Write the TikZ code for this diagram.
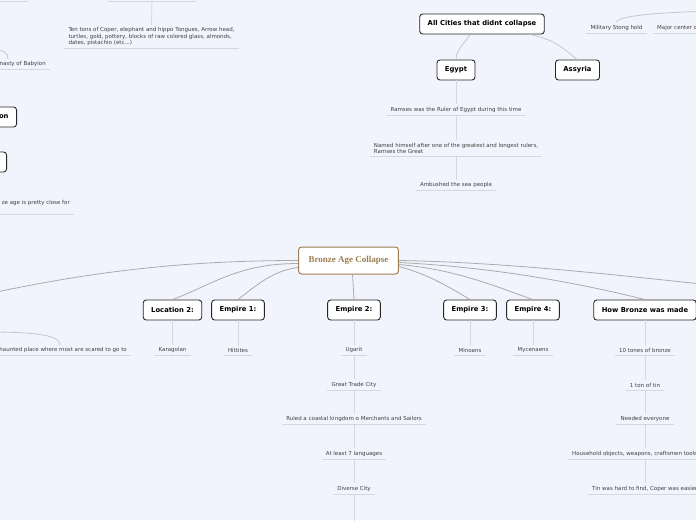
\documentclass[tikz,border=0pt]{standalone}
\usepackage{fontspec}
\newfontfamily\mapfont{DejaVu Sans}
\newfontfamily\rootfont{Liberation Serif}
\usetikzlibrary{calc}

\definecolor{mapbg}{HTML}{F1F4FC}
\definecolor{roottan}{HTML}{9C7E52}
\definecolor{trunkgray}{HTML}{ABABAB}
\definecolor{branchgray}{HTML}{C4C7CF}
\definecolor{linegray}{HTML}{D3D7DF}
\definecolor{leaftext}{HTML}{404040}

\begin{document}
\begin{tikzpicture}[x=1pt, y=-1pt,
    root/.style={draw=roottan, line width=1pt, rounded corners=3pt, fill=white, text=roottan,
        font=\rootfont\bfseries\fontsize{9}{10}\selectfont, minimum height=27pt, inner xsep=10pt},
    topic/.style={draw=black!85, line width=0.9pt, rounded corners=3pt, fill=white,
        font=\mapfont\bfseries\fontsize{6.8}{8}\selectfont, minimum height=20pt, inner xsep=8pt},
    uline/.style={draw=linegray, line width=0.8pt},
    leaf/.style={text=leaftext, font=\mapfont\fontsize{5.5}{6.4}\selectfont, inner xsep=4pt, inner ysep=2.5pt, align=left,
        append after command={(\tikzlastnode.south west) edge[uline] (\tikzlastnode.south east)}},
    trunk/.style={draw=trunkgray, line width=0.8pt},
    branch/.style={draw=branchgray, line width=0.8pt}]
    \useasboundingbox (0,0) rectangle (696,520);
    \clip (0,0) rectangle (696,520);
    \fill[mapbg] (0,0) rectangle (696,520);

    % Central topic
    \node[root] (root) at (348.5,260.5) {Bronze Age Collapse};

    % Cities that lasted
    \node[topic] (allcities) at (482,24) {All Cities that didnt collapse};
    \node[topic] (egypt) at (456,70) {Egypt};
    \node[topic] (assyria) at (577.5,70) {Assyria};
    \node[leaf, anchor=south] (ramses) at (456,115) {Ramses was the Ruler of Egypt during this time};
    \node[leaf, anchor=south, font=\mapfont\fontsize{5.5}{6.2}\selectfont] (named) at (456,156) {Named himself after one of the greatest and longest rulers,\\Ramses the Great};
    \node[leaf, anchor=south] (ambushed) at (456,190.5) {Ambushed the sea people};
    \node[leaf, anchor=south] (military) at (616.5,33) {Military Stong hold};
    \node[leaf, anchor=south west] (majorcenter) at (653,33) {Major center of};

    % Left side, cut by the edge
    \node[leaf, anchor=south, font=\mapfont\fontsize{5.5}{6.5}\selectfont] (tentons) at (151.5,48.5) {Ten tons of Coper, elephant and hippo Tongues, Arrow head,\\turtles, gold, pottery, blocks of raw colored glass, almonds,\\dates, pistachio (etc...)};
    \node[leaf, anchor=south east] (babylon) at (50,69.5) {nasty of Babylon};
    \node[topic, anchor=east] (lefttopic) at (17,117) {on};
    \node[topic, anchor=east, minimum width=40pt] (leftbox) at (7,162) {};
    \node[leaf, anchor=south east, text depth=7pt] (closefor) at (74,214) {ze age is pretty close for};
    \node[leaf, anchor=south east] (haunted) at (131,355.5) {haunted place where most are scared to go to};

    % Bottom row
    \node[topic] (loc2) at (172.5,310) {Location 2:};
    \node[topic] (emp1) at (238,310) {Empire 1:};
    \node[topic] (emp2) at (354,310) {Empire 2:};
    \node[topic] (emp3) at (470,310) {Empire 3:};
    \node[topic] (emp4) at (533,310) {Empire 4:};
    \node[topic] (howbronze) at (645,310) {How Bronze was made};

    \node[leaf, anchor=south] (karagolan) at (172.5,355.5) {Karagolan};
    \node[leaf, anchor=south] (hittites) at (238,355.5) {Hittites};
    \node[leaf, anchor=south] (minoans) at (470,355.5) {Minoans};
    \node[leaf, anchor=south] (mycenaens) at (533,355.5) {Mycenaens};

    \node[leaf, anchor=south] (ugarit) at (354,355.5) {Ugarit};
    \node[leaf, anchor=south] (tradecity) at (354,390) {Great Trade City};
    \node[leaf, anchor=south] (coastal) at (354,424.5) {Ruled a coastal kingdom o Merchants and Sailors};
    \node[leaf, anchor=south] (languages) at (354,459) {At least 7 languages};
    \node[leaf, anchor=south] (diverse) at (354,494) {Diverse City};

    \node[leaf, anchor=south] (tenbronze) at (645,355.5) {10 tones of bronze};
    \node[leaf, anchor=south] (tin) at (645,390) {1 ton of tin};
    \node[leaf, anchor=south] (needed) at (645,424.5) {Needed everyone};
    \node[leaf, anchor=south west] (household) at (568,459) {Household objects, weapons, craftsmen tools};
    \node[leaf, anchor=south west] (hardtofind) at (588,494) {Tin was hard to find, Coper was easier};

    % Loose ends
    \coordinate (offleft) at (-40,300);
    \coordinate (offright) at (740,288);
    \coordinate (topstub) at (152,1);
    \coordinate (offbab) at (-10,49.5);
    \coordinate (babin) at (8,59);
    \coordinate (offhaunt) at (-10,332);
    \coordinate (hauntin) at (60,345);
    \coordinate (offtopright) at (740,11);
    \coordinate (belowdiverse) at (354,530);

    % Lines from the central topic
    \draw[trunk] (root.west) .. controls +(-130,0) and +(110,-25) .. (offleft);
    \draw[trunk] ([yshift=-3pt]root.west) .. controls +(-60,0) and +(40,-15) .. (loc2.north);
    \draw[trunk] ([yshift=-7pt]root.west) .. controls +(-25,3) and +(18,-14) .. (emp1.north);
    \draw[trunk] ([xshift=4pt]root.south) -- (emp2.north);
    \draw[trunk] ([yshift=-6pt]root.east) .. controls +(30,8) and +(-20,-12) .. (emp3.north);
    \draw[trunk] ([yshift=-4pt]root.east) .. controls +(60,5) and +(-30,-10) .. (emp4.north);
    \draw[trunk] ([yshift=-2pt]root.east) .. controls +(100,5) and +(-60,-15) .. (howbronze.north);
    \draw[trunk] (root.east) .. controls +(120,2) and +(-100,-10) .. (offright);

    % Branches
    \draw[branch] ([xshift=-12pt]allcities.south) .. controls +(-6,10) and +(0,-10) .. (egypt.north);
    \draw[branch] ([xshift=48pt]allcities.south) .. controls +(28,6) and +(-14,-10) .. (assyria.north);
    \draw[branch] (military.north) .. controls +(0,-7) and +(-70,0) .. (offtopright);
    \draw[branch] (offbab) .. controls +(15,0) and +(0,-6) .. (babin);
    \draw[branch] (offhaunt) .. controls +(55,0) and +(0,-8) .. (hauntin);
    \draw[uline] (0,1) -- (28,1);
    \draw[uline] (108,1) -- (196,1);

    % Chains of notes
    \draw[uline] (topstub) -- (tentons.north);
    \draw[uline] (egypt.south) -- (ramses.north);
    \draw[uline] (ramses.south) -- (named.north);
    \draw[uline] (named.south) -- (ambushed.north);
    \draw[uline] (loc2.south) -- (karagolan.north);
    \draw[uline] (emp1.south) -- (hittites.north);
    \draw[uline] (emp3.south) -- (minoans.north);
    \draw[uline] (emp4.south) -- (mycenaens.north);
    \draw[uline] (emp2.south) -- (ugarit.north);
    \draw[uline] (ugarit.south) -- (tradecity.north);
    \draw[uline] (tradecity.south) -- (coastal.north);
    \draw[uline] (coastal.south) -- (languages.north);
    \draw[uline] (languages.south) -- (diverse.north);
    \draw[uline] (diverse.south) -- (belowdiverse);
    \draw[uline] (howbronze.south) -- (tenbronze.north);
    \draw[uline] (tenbronze.south) -- (tin.north);
    \draw[uline] (tin.south) -- (needed.north);
    \draw[uline] (needed.south) -- (needed.south |- household.north);
    \draw[uline] (needed.south |- household.south) -- (needed.south |- hardtofind.north);
\end{tikzpicture}
\end{document}
